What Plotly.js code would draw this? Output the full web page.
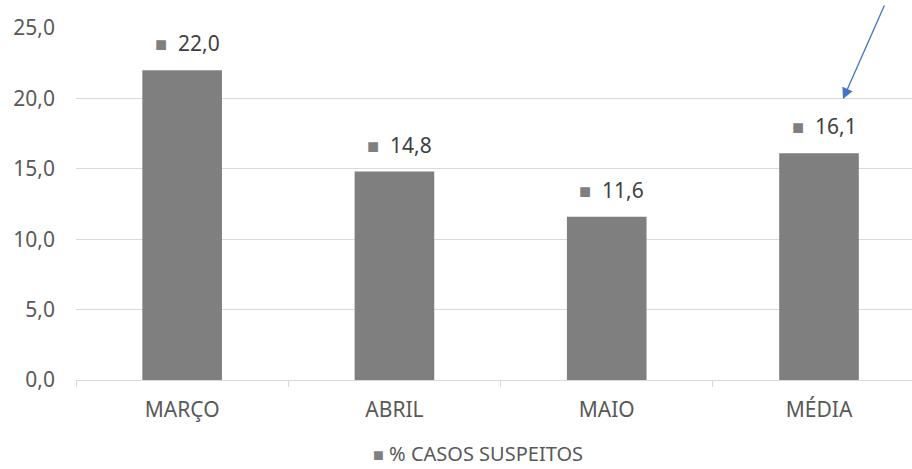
<!DOCTYPE html>
<html>
<head>
<meta charset="utf-8">
<script src="https://cdn.plot.ly/plotly-3.0.1.min.js"></script>
<style>
  html, body { margin: 0; padding: 0; background: #fff; }
  #chart { width: 912px; height: 469px; }
</style>
</head>
<body>
<div id="chart"></div>
<script>
// Monthly share of suspected cases, with the average as the last bar
const categories = ['MARÇO', 'ABRIL', 'MAIO', 'MÉDIA'];
const percentSuspected = [22.0, 14.8, 11.6, 16.1];
const seriesName = '% CASOS SUSPEITOS';
const yTicks = [0, 5, 10, 15, 20, 25];

const barColor = '#7f7f7f';
const gridColor = '#d9d9d9';
const axisText = '#595959';
const labelText = '#404040';
const fontFamily = 'Noto Sans, Open Sans, sans-serif';

const fmt = v => v.toFixed(1).replace('.', ',');

const trace = {
  type: 'bar',
  x: categories,
  y: percentSuspected,
  name: seriesName,
  marker: { color: barColor, line: { width: 0 } },
  width: 0.375,
  hoverinfo: 'x+y',
  showlegend: false
};

// value labels with a small series key in front, Excel style
const valueLabels = categories.map((c, i) => ({
  x: c,
  y: percentSuspected[i],
  xref: 'x',
  yref: 'y',
  yanchor: 'bottom',
  xanchor: 'center',
  xshift: 5,
  yshift: 11,
  showarrow: false,
  text: '<span style="color:' + barColor + ';font-size:20px">■</span>  ' + fmt(percentSuspected[i]),
  font: { family: fontFamily, size: 21, color: labelText }
}));

// legend drawn as centered text below the axis
const legendNote = {
  xref: 'paper', yref: 'paper',
  x: (478 - 76) / 836, y: (380 - 468) / 352,
  xanchor: 'center', yanchor: 'bottom',
  borderpad: 0,
  showarrow: false,
  text: '<span style="color:' + barColor + ';font-size:18px">■</span> ' + seriesName,
  font: { family: fontFamily, size: 20, color: axisText }
};

// pointer highlighting the average bar
const pointer = {
  x: 3.113, y: 19.95,
  xref: 'x', yref: 'y',
  showarrow: true,
  text: '',
  ax: 42, ay: -95,
  arrowcolor: '#4472c4',
  arrowhead: 2,
  arrowsize: 1.7,
  arrowwidth: 1.3,
  standoff: 0
};

const layout = {
  width: 912,
  height: 469,
  margin: { l: 76, r: 0, t: 28, b: 89 },
  paper_bgcolor: '#ffffff',
  plot_bgcolor: '#ffffff',
  separators: ',.',
  font: { family: fontFamily, color: axisText },
  showlegend: false,
  xaxis: {
    type: 'category',
    range: [-0.5, 3.438],
    showgrid: false,
    showline: true,
    linecolor: gridColor,
    linewidth: 1,
    ticks: 'outside',
    tickson: 'boundaries',
    ticklen: 6,
    tickcolor: gridColor,
    ticklabelstandoff: 11,
    tickfont: { family: fontFamily, size: 21, color: axisText },
    fixedrange: true
  },
  yaxis: {
    range: [0, 25],
    tickvals: yTicks,
    ticktext: yTicks.map(fmt),
    showgrid: true,
    gridcolor: gridColor,
    gridwidth: 1,
    zeroline: false,
    showline: false,
    ticks: '',
    ticklabelstandoff: 20,
    tickfont: { family: fontFamily, size: 21, color: axisText },
    fixedrange: true
  },
  annotations: [...valueLabels, legendNote, pointer]
};

Plotly.newPlot('chart', [trace], layout, { displayModeBar: false, staticPlot: true });
</script>
</body>
</html>
